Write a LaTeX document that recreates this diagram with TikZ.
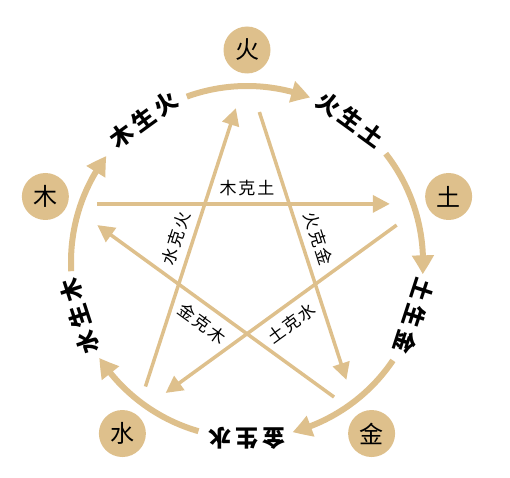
\documentclass[tikz,border=0pt]{standalone}
\usepackage{fontspec}
\newfontfamily\cjk{Noto Sans CJK SC}
\usetikzlibrary{arrows.meta,bending}
\definecolor{tan}{RGB}{222,192,140}
\newcommand\gap{\hspace{4pt}}
\newcommand\kgap{\hspace{2pt}}
\tikzset{
  elem/.style={circle, fill=tan, minimum size=47pt, inner sep=0pt, font=\cjk\fontsize{24}{24}\selectfont},
  sheng/.style={inner sep=0pt, font=\cjk\bfseries\fontsize{23}{23}\selectfont},
  ke/.style={font=\cjk\fontsize{17}{17}\selectfont},
  shengarc/.style={draw=tan, line width=6pt, -{Triangle[length=19pt,width=21pt,bend]}},
  keline/.style={draw=tan, line width=3.5pt, -{Triangle[length=17pt,width=17pt]}, shorten <=29pt, shorten >=36pt},
}
\begin{document}
\begin{tikzpicture}[x=1pt,y=1pt]
\useasboundingbox (-247,-215) rectangle (263,262);
\node[elem] (huo) at (90:212){火};
\node[elem] (tu) at (18:212){土};
\node[elem] (jin) at (-54:212){金};
\node[elem] (shui) at (-126:212){水};
\node[elem] (mu) at (162:212){木};
\coordinate (vhuo) at (90:188);
\coordinate (vtu) at (18:188);
\coordinate (vjin) at (-54:188);
\coordinate (vshui) at (-126:188);
\coordinate (vmu) at (162:188);
\draw[keline] (vmu) -- node[ke, above=3pt]{木\kgap 克\kgap 土} (vtu);
\draw[keline, shorten <=36pt] (vtu) -- node[ke, sloped, below=5pt]{土\kgap 克\kgap 水} (vshui);
\draw[keline] (vshui) -- node[ke, sloped, above=4pt]{水\kgap 克\kgap 火} (vhuo);
\draw[keline, shorten <=40pt] (vhuo) -- node[ke, sloped, above=4pt]{火\kgap 克\kgap 金} (vjin);
\draw[keline] (vjin) -- node[ke, sloped, below=5pt]{金\kgap 克\kgap 木} (vmu);
\draw[shengarc] (110:176) arc[start angle=110, end angle=69, radius=176];
\draw[shengarc] (38:176) arc[start angle=38, end angle=-4, radius=176];
\draw[shengarc] (-34:176) arc[start angle=-34, end angle=-75, radius=176];
\draw[shengarc] (-106:176) arc[start angle=-106, end angle=-147, radius=176];
\draw[shengarc] (-177:176) arc[start angle=-177, end angle=-217, radius=176];
\node[sheng, rotate=36] (mushenghuo) at (126:176){木\gap 生\gap 火};
\node[sheng, rotate=-36] (huoshengtu) at (54:176){火\gap 生\gap 土};
\node[sheng, rotate=-108] (tushengjin) at (-18:176){土\gap 生\gap 金};
\node[sheng, rotate=180] (jinshengshui) at (-90:176){金\gap 生\gap 水};
\node[sheng, rotate=108] (shuishengmu) at (-162:176){水\gap 生\gap 木};
\end{tikzpicture}
\end{document}
